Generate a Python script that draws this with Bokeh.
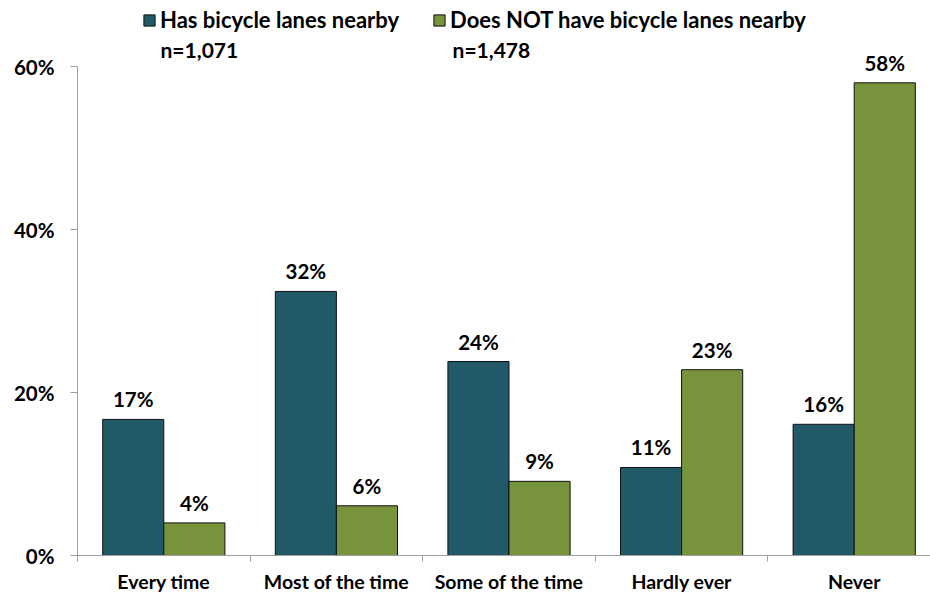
from bokeh.plotting import figure
from bokeh.models import FixedTicker, Legend, LegendItem, Range1d, ColumnDataSource
from bokeh.core.properties import value
from bokeh.embed import file_html
from bokeh.resources import INLINE

categories = ["Every time", "Most of the time", "Some of the time", "Hardly ever", "Never"]
has_lanes = [16.7, 32.4, 23.8, 10.8, 16.1]
no_lanes = [4.0, 6.1, 9.1, 22.8, 58.0]
has_labels = ["17%", "32%", "24%", "11%", "16%"]
no_labels = ["4%", "6%", "9%", "23%", "58%"]
series_names = ["Has bicycle lanes nearby", "Does NOT have bicycle lanes nearby"]
series_n = ["n=1,071", "n=1,478"]
y_ticks = [0, 20, 40, 60]
y_tick_labels = ["0%", "20%", "40%", "60%"]

COLORS = ["#215968", "#77933C"]
FONT = "Lato"
BAR_W = 0.354
AXIS_COLOR = "#A0A0A0"

W, H = 930, 597
LEFT, BOTTOM = 77, 42
CAT_PX = 172.6
PX_PER_UNIT = 8.15
frame_w = W - LEFT
frame_h = H - BOTTOM

p = figure(width=W, height=H, output_backend="svg", toolbar_location=None,
           x_range=Range1d(0, frame_w / CAT_PX),
           y_range=Range1d(0, frame_h / PX_PER_UNIT),
           min_border_left=LEFT, min_border_right=0, min_border_top=0,
           min_border_bottom=BOTTOM)
p.outline_line_color = None
p.xgrid.visible = False
p.ygrid.visible = False
p.background_fill_color = "white"
p.border_fill_color = "white"

n = len(categories)
xs_has = [i + 0.5 - BAR_W / 2 for i in range(n)]
xs_no = [i + 0.5 + BAR_W / 2 for i in range(n)]

src_has = ColumnDataSource(dict(x=xs_has, top=has_lanes, lab=has_labels))
src_no = ColumnDataSource(dict(x=xs_no, top=no_lanes, lab=no_labels))

r_has = p.vbar(x="x", top="top", bottom=0, width=BAR_W, source=src_has,
               fill_color=COLORS[0], line_color="#111111", line_width=1)
r_no = p.vbar(x="x", top="top", bottom=0, width=BAR_W, source=src_no,
              fill_color=COLORS[1], line_color="#111111", line_width=1)

for src in (src_has, src_no):
    p.text(x="x", y="top", text="lab", source=src, text_align="center",
           text_baseline="middle", y_offset=-20,
           text_font=value(FONT), text_font_style="bold",
           text_font_size="20.5px", text_color="black")

# x axis: labels at category centres, ticks at boundaries
xa = p.xaxis[0]
xa.ticker = FixedTicker(ticks=[i + 0.5 for i in range(n)],
                        minor_ticks=list(range(n + 1)))
xa.major_label_overrides = {i + 0.5: c for i, c in enumerate(categories)}
xa.major_tick_out = 0
xa.major_tick_in = 0
xa.minor_tick_out = 6
xa.minor_tick_in = 0
xa.minor_tick_line_color = AXIS_COLOR
xa.axis_line_color = AXIS_COLOR
xa.major_label_standoff = 8
xa.major_label_text_font = FONT
xa.major_label_text_font_style = "bold"
xa.major_label_text_font_size = "19.5px"
xa.major_label_text_color = "black"

ya = p.yaxis[0]
ya.ticker = FixedTicker(ticks=y_ticks)
ya.major_label_overrides = {t: l for t, l in zip(y_ticks, y_tick_labels)}
ya.bounds = (0, 60)
ya.minor_tick_line_color = None
ya.major_tick_out = 7
ya.major_tick_in = 0
ya.major_tick_line_color = AXIS_COLOR
ya.axis_line_color = AXIS_COLOR
ya.major_label_standoff = 16
ya.major_label_text_font = FONT
ya.major_label_text_font_style = "bold"
ya.major_label_text_font_size = "20.5px"
ya.major_label_text_color = "black"

legend = Legend(items=[LegendItem(label=series_names[0], renderers=[r_has]),
                       LegendItem(label=series_names[1], renderers=[r_no])],
                orientation="horizontal", location=(65, frame_h - 33),
                glyph_width=14, glyph_height=14, label_standoff=4,
                spacing=33, padding=0, margin=0,
                label_text_font=FONT, label_text_font_style="bold",
                label_text_font_size="22px", label_text_color="black",
                label_height=26, border_line_color=None,
                background_fill_alpha=0)
p.add_layout(legend, "center")

# second legend line with sample sizes
n_x = [0.481, 2.173]
n_y = [62.1, 62.1]
p.text(x=n_x, y=n_y, text=series_n, text_align="left",
       text_baseline="middle", text_font=value(FONT),
       text_font_style="bold", text_font_size="21px", text_color="black")

open("out.html", "w").write(file_html(p, INLINE))
